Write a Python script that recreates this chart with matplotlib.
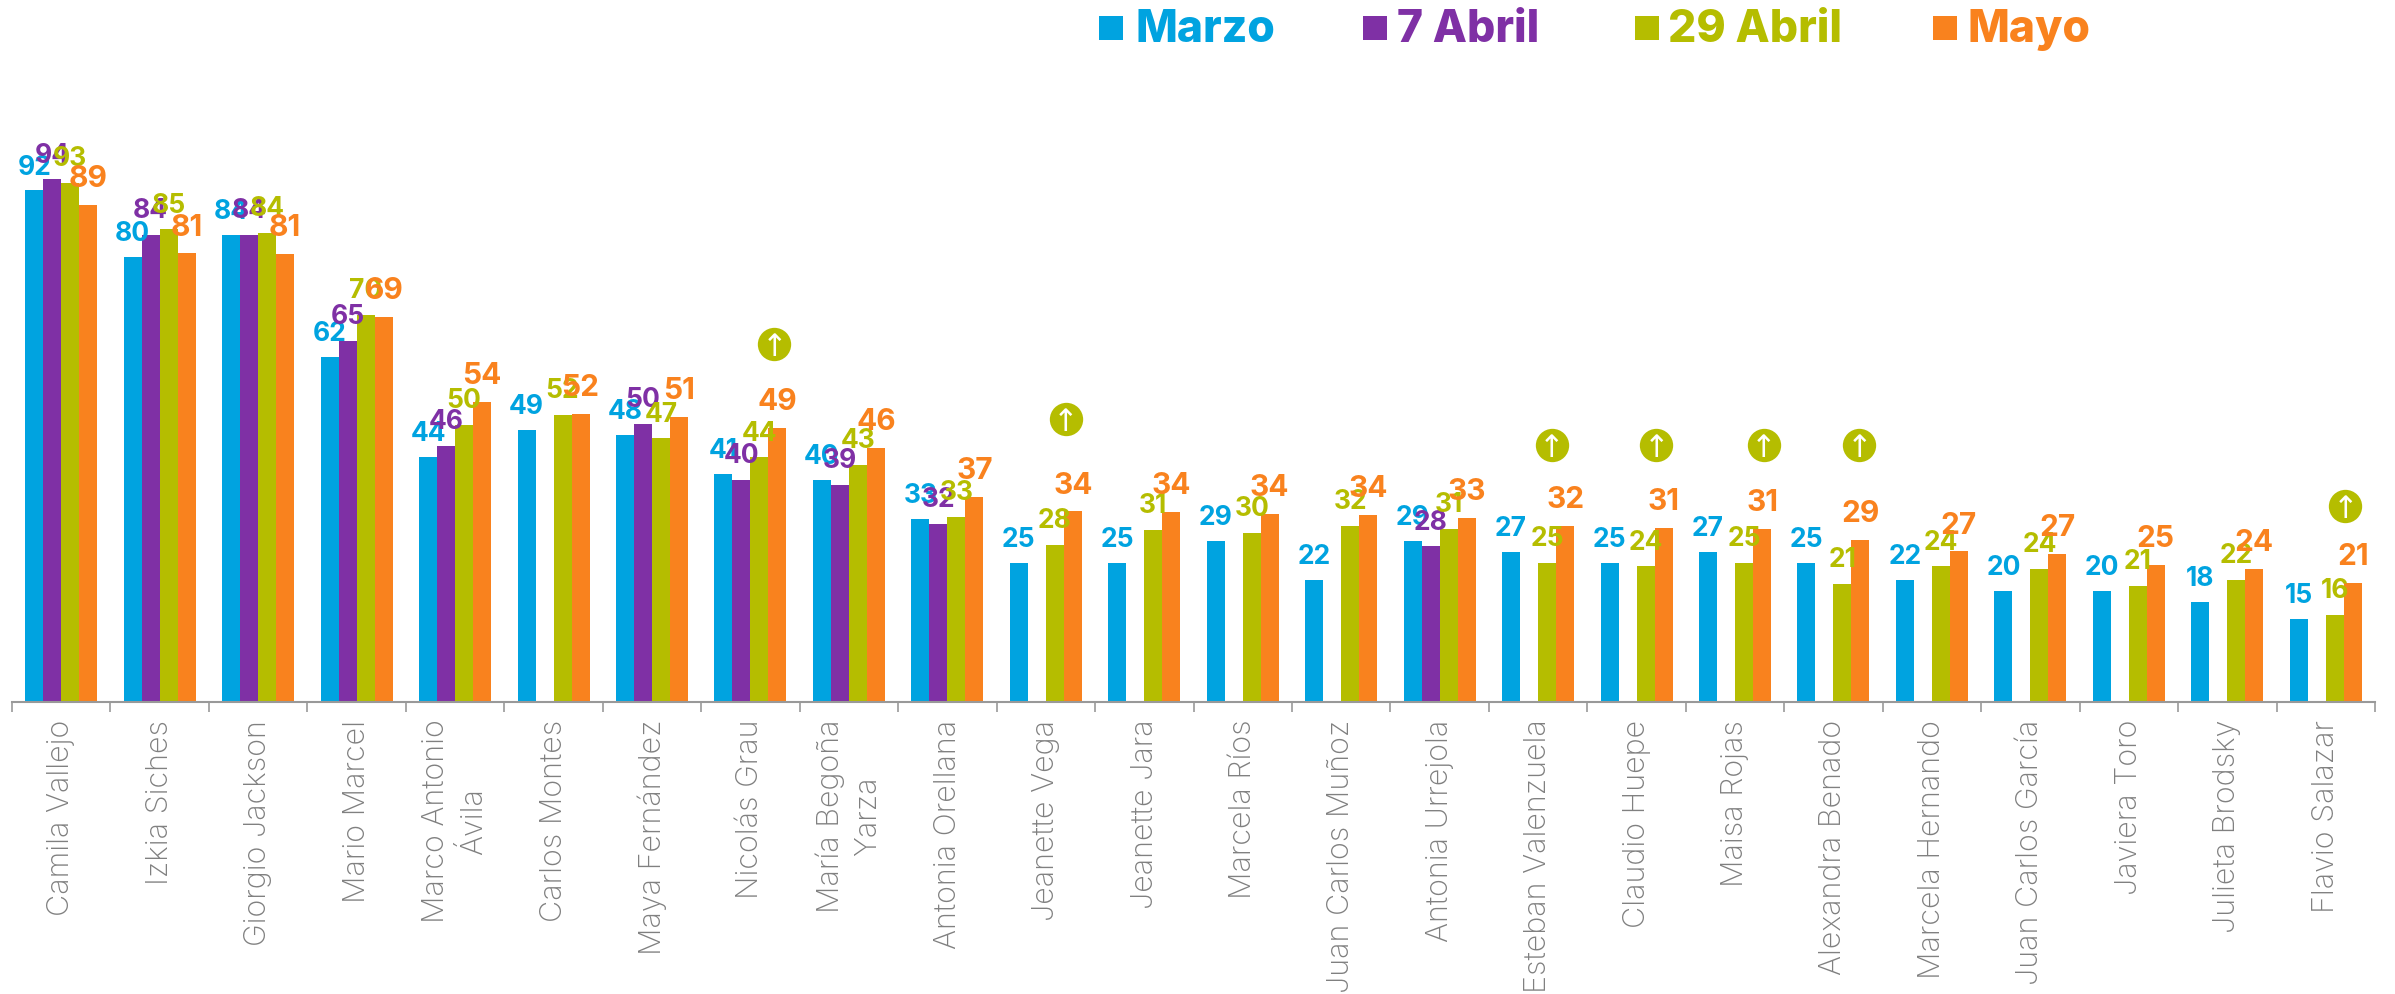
import numpy as np
import matplotlib
matplotlib.use("Agg")
import matplotlib.pyplot as plt
from matplotlib.patches import Rectangle

nan = np.nan

names = ["Camila Vallejo", "Izkia Siches", "Giorgio Jackson", "Mario Marcel",
         "Marco Antonio\nÁvila", "Carlos Montes", "Maya Fernández", "Nicolás Grau",
         "María Begoña\nYarza", "Antonia Orellana", "Jeanette Vega", "Jeanette Jara",
         "Marcela Ríos", "Juan Carlos Muñoz", "Antonia Urrejola", "Esteban Valenzuela",
         "Claudio Huepe", "Maisa Rojas", "Alexandra Benado", "Marcela Hernando",
         "Juan Carlos García", "Javiera Toro", "Julieta Brodsky", "Flavio Salazar"]

marzo = [92, 80, 84, 62, 44, 49, 48, 41, 40, 33, 25, 25, 29, 22, 29, 27, 25, 27, 25, 22, 20, 20, 18, 15]
abril7 = [94, 84, 84, 65, 46, nan, 50, 40, 39, 32, nan, nan, nan, nan, 28, nan, nan, nan, nan, nan, nan, nan, nan, nan]
abril29 = [93.4, 85, 84.4, 69.6, 49.9, 51.6, 47.4, 44, 42.6, 33.3, 28.2, 30.9, 30.4, 31.7, 31.1, 25, 24.4, 25, 21.3, 24.4, 23.9, 20.9, 21.9, 15.6]
mayo = [89.4, 80.7, 80.6, 69.3, 54, 51.8, 51.3, 49.3, 45.7, 36.9, 34.3, 34.2, 33.8, 33.6, 33.1, 31.7, 31.3, 31.1, 29.1, 27.1, 26.6, 24.7, 23.9, 21.4]

series_names = ["Marzo", "7 Abril", "29 Abril", "Mayo"]
series_vals = [marzo, abril7, abril29, mayo]
colors = ["#00A3E0", "#7F30A5", "#B5BD00", "#F9821E"]

# circulos con flecha
badge_x = [7.24, 10.2, 15.14, 16.2, 17.29, 18.26, 23.2]
badge_y = [64.4, 50.9, 46.3, 46.3, 46.3, 46.3, 35.3]

W, H = 2395, 995
LEFT, RIGHT, BASE = 12, 2375, 703
PX_PER_UNIT = 5.56

plt.rcParams["font.family"] = ["Inter", "DejaVu Sans"]

fig = plt.figure(figsize=(W / 100, H / 100), dpi=100)
ax = fig.add_axes([LEFT / W, (H - BASE) / H, (RIGHT - LEFT) / W, BASE / H])
ax.patch.set_alpha(0)

x = np.arange(len(names))
bar_w = 18 / 98.5
label_sizes = [19, 19, 19, 21.5]
label_gaps = [12.2, 12.8, 12.8, 13.5]

for i, (vals, color) in enumerate(zip(series_vals, colors)):
    xpos = x + (i - 1.5) * bar_w
    ax.bar(xpos, vals, width=bar_w, color=color, linewidth=0, zorder=2)
    for xp, v in zip(xpos, vals):
        if np.isnan(v):
            continue
        ax.annotate(f"{v:.0f}", (xp, v), xytext=(0, label_gaps[i]), textcoords="offset points",
                    ha="center", va="baseline", color=color, fontsize=label_sizes[i],
                    fontweight="bold", zorder=3 + i)

ax.scatter(badge_x, badge_y, s=24 ** 2, color=colors[2], linewidths=0, zorder=8)
for bx, by in zip(badge_x, badge_y):
    ax.text(bx, by, "↑", color="white", fontsize=22, ha="center", va="center_baseline",
            family="DejaVu Sans", zorder=9)

ax.set_xlim(-0.5, len(names) - 0.5)
ax.set_ylim(0, BASE / PX_PER_UNIT)
for side in ["top", "left", "right"]:
    ax.spines[side].set_visible(False)
ax.spines["bottom"].set_color("#999999")
ax.spines["bottom"].set_linewidth(1.5)
ax.set_yticks([])
ax.set_xticks(np.arange(len(names) + 1) - 0.5)
ax.set_xticklabels([])
ax.tick_params(axis="x", which="major", length=7, width=1.2, color="#999999")
ax.set_xticks(x, minor=True)
ax.set_xticklabels(names, minor=True, rotation=90, ha="center", va="top", multialignment="center",
                   fontsize=22, color="#808080", fontweight="light", linespacing=1.4)
ax.tick_params(axis="x", which="minor", length=0, pad=12)

# leyenda manual arriba
square_px = [1099, 1363, 1635, 1933]
text_px = [1135, 1397, 1668, 1968]
for name, color, sx, tx in zip(series_names, colors, square_px, text_px):
    fig.add_artist(Rectangle((sx / W, 1 - 41 / H), 24 / W, 24 / H, transform=fig.transFigure,
                             facecolor=color, edgecolor="none"))
    fig.text(tx / W, 1 - 42 / H, name, color=color, fontsize=32, fontweight="heavy",
             ha="left", va="baseline")

fig.savefig("out.png", dpi=100)
